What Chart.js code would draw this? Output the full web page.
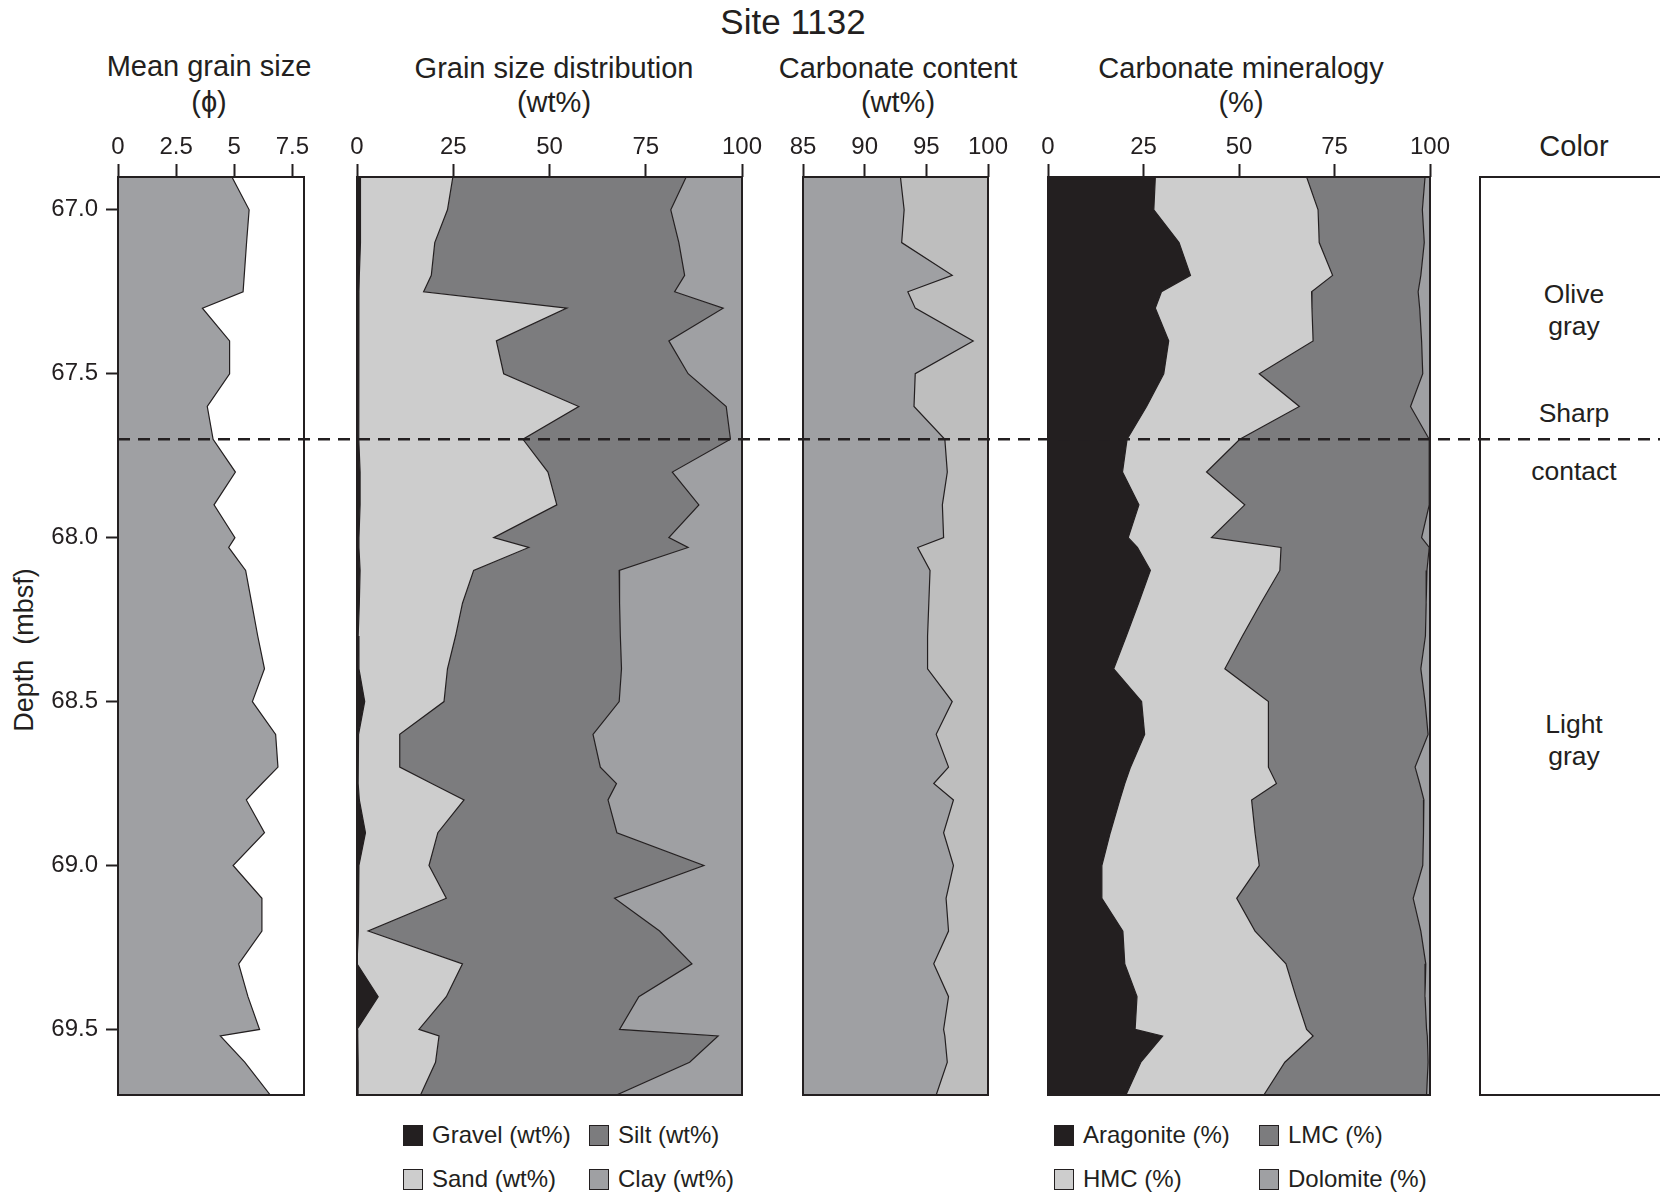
<!DOCTYPE html>
<html>
<head>
<meta charset="utf-8">
<script src="https://cdn.jsdelivr.net/npm/chart.js@4.4.1/dist/chart.umd.min.js"></script>
<style>
  html, body { margin: 0; padding: 0; background: #fff; }
  #page { position: relative; width: 1660px; height: 1196px; overflow: hidden;
          font-family: "Liberation Sans", Arial, Helvetica, sans-serif; color: #231f20; }
  #page canvas { position: absolute; z-index: 1; }
  .lbl { position: absolute; white-space: nowrap; line-height: 1; transform: translate(-50%, -50%); }
  .hd { font-size: 29px; }
  .leg { position: absolute; display: flex; align-items: center; font-size: 24px; line-height: 1;
         white-space: nowrap; transform: translateY(-50%); }
  .leg i { display: inline-block; width: 18px; height: 19px; border: 1.6px solid #231f20; margin-right: 9px; }
  #colorBox { position: absolute; left: 1479px; top: 176px; width: 300px; height: 916px;
              border: 2px solid #231f20; }
  .ct { font-size: 26.5px; }
  #depthTitle { position: absolute; left: 24px; top: 650px; font-size: 27px; line-height: 1; white-space: pre;
                transform: translate(-50%, -50%) rotate(-90deg); }
  #contact { position: absolute; left: 0; top: 0; z-index: 10; pointer-events: none; }
</style>
</head>
<body>
<div id="page">
  <div class="lbl" style="left:793px;top:21px;font-size:35px">Site 1132</div>

  <div class="lbl hd" style="left:209px;top:66px">Mean grain size</div>
  <div class="lbl hd" style="left:209px;top:102px">(ϕ)</div>
  <div class="lbl hd" style="left:554px;top:68px">Grain size distribution</div>
  <div class="lbl hd" style="left:554px;top:102px">(wt%)</div>
  <div class="lbl hd" style="left:898px;top:68px">Carbonate content</div>
  <div class="lbl hd" style="left:898px;top:102px">(wt%)</div>
  <div class="lbl hd" style="left:1241px;top:68px">Carbonate mineralogy</div>
  <div class="lbl hd" style="left:1241px;top:102px">(%)</div>
  <div class="lbl hd" style="left:1574px;top:146px">Color</div>

  <div id="depthTitle">Depth  (mbsf)</div>

  <div id="colorBox"></div>
  <div class="lbl ct" style="left:1574px;top:294px">Olive</div>
  <div class="lbl ct" style="left:1574px;top:326px">gray</div>
  <div class="lbl ct" style="left:1574px;top:413px">Sharp</div>
  <div class="lbl ct" style="left:1574px;top:471px">contact</div>
  <div class="lbl ct" style="left:1574px;top:724px">Light</div>
  <div class="lbl ct" style="left:1574px;top:756px">gray</div>

  <div id="legends"></div>
  <svg id="contact" width="1660" height="1196"></svg>
</div>

<script>
// depth of each sample (mbsf)
const DEPTH = [66.90, 67.00, 67.10, 67.20, 67.25, 67.30, 67.40, 67.50, 67.60, 67.70, 67.80,
               67.90, 68.00, 68.03, 68.10, 68.20, 68.30, 68.40, 68.50, 68.60, 68.70, 68.75,
               68.80, 68.90, 69.00, 69.10, 69.20, 69.30, 69.40, 69.50, 69.52, 69.60, 69.70];
const DEPTH_MIN = 66.9, DEPTH_MAX = 69.7;
const DEPTH_TICKS = [67.0, 67.5, 68.0, 68.5, 69.0, 69.5];
const CONTACT_DEPTH = 67.70;

// mean grain size (phi)
const MEAN_GRAIN = [4.90, 5.64, 5.53, 5.43, 5.38, 3.63, 4.80, 4.80, 3.84, 4.09, 5.05,
                    4.13, 5.03, 4.76, 5.49, 5.75, 6.01, 6.30, 5.78, 6.78, 6.88, 6.19,
                    5.52, 6.30, 4.95, 6.19, 6.19, 5.19, 5.59, 6.09, 4.40, 5.45, 6.55];
const GRAIN_TICKS = [0, 2.5, 5, 7.5];

// grain size distribution (wt%)
const GRAVEL = [0.8, 1.0, 0.8, 0.6, 0.5, 0.5, 0.5, 0.4, 0.4, 0.5, 0.8,
                0.8, 0.5, 0.5, 0.8, 0.6, 0.3, 0.5, 2.0, 0.4, 0.3, 0.3,
                0.6, 2.2, 0.5, 0.4, 0.3, 0.0, 5.5, 0.0, 0.2, 0.3, 0.3];
const SAND = [24.1, 22.5, 19.4, 18.7, 16.8, 54.0, 35.7, 37.7, 57.2, 42.6, 48.8,
              51.1, 35.0, 44.1, 29.5, 26.8, 25.3, 23.0, 20.6, 10.7, 10.8, 19.1,
              27.2, 18.8, 18.2, 22.8, 2.6, 27.4, 17.7, 16.1, 21.1, 20.1, 16.2];
const SILT = [60.6, 58.0, 63.4, 65.8, 65.2, 40.6, 44.8, 47.9, 38.3, 53.9, 32.3,
              36.9, 45.5, 41.4, 37.8, 40.8, 42.8, 45.2, 45.5, 50.2, 52.1, 48.0,
              37.4, 46.5, 71.4, 43.7, 75.7, 59.6, 50.0, 52.1, 72.5, 66.0, 50.9];
const CLAY = [14.5, 18.5, 16.4, 14.9, 17.5, 4.9, 19.0, 14.0, 4.1, 3.0, 18.1,
              11.2, 19.0, 14.0, 31.9, 31.8, 31.6, 31.3, 31.9, 38.7, 36.8, 32.6,
              34.8, 32.5, 9.9, 33.1, 21.4, 13.0, 26.8, 31.8, 6.2, 13.6, 32.6];
const PCT_TICKS = [0, 25, 50, 75, 100];

// carbonate content (wt%)
const CARBONATE = [92.9, 93.2, 93.0, 97.1, 93.5, 94.1, 98.8, 94.1, 94.0, 96.5, 96.7,
                   96.3, 96.4, 94.3, 95.3, 95.2, 95.1, 95.1, 97.1, 95.8, 96.8, 95.6,
                   97.2, 96.4, 97.2, 96.6, 96.8, 95.6, 96.8, 96.4, 96.5, 96.7, 95.8];
const CARB_TICKS = [85, 90, 95, 100];

// carbonate mineralogy (%)
const ARAGONITE = [28.1, 27.7, 34.3, 37.3, 29.7, 28.1, 31.6, 30.3, 25.8, 20.7, 19.5,
                   23.8, 21.0, 23.4, 26.8, 23.7, 20.5, 17.2, 24.5, 25.3, 21.6, 20.1,
                   18.8, 16.3, 14.1, 14.1, 19.6, 20.1, 23.3, 22.8, 30.0, 24.3, 20.4];
const HMC = [39.6, 43.0, 36.7, 37.2, 39.3, 41.0, 37.8, 25.0, 40.0, 29.5, 22.0,
             27.7, 21.8, 37.6, 33.9, 32.0, 30.4, 29.1, 33.2, 32.4, 36.1, 39.7,
             34.5, 37.9, 41.2, 35.3, 34.6, 42.2, 41.6, 44.9, 39.4, 37.7, 36.1];
const LMC = [31.0, 27.3, 27.5, 23.1, 27.9, 28.2, 28.4, 42.8, 29.1, 49.6, 58.3,
             48.3, 55.0, 38.8, 38.5, 43.3, 47.9, 51.3, 41.0, 41.8, 38.4, 37.5,
             45.1, 44.1, 42.8, 46.2, 43.4, 36.6, 33.8, 31.4, 29.9, 37.5, 42.6];
const DOLOMITE = [1.3, 2.0, 1.5, 2.4, 3.1, 2.7, 2.2, 1.9, 5.1, 0.2, 0.2,
                  0.2, 2.2, 0.2, 0.8, 1.0, 1.2, 2.4, 1.3, 0.5, 3.9, 2.7,
                  1.6, 1.7, 1.9, 4.4, 2.4, 1.1, 1.3, 0.9, 0.7, 0.5, 0.9];

const INK = '#231f20';
const FONT = '"Liberation Sans", Arial, Helvetica, sans-serif';
const C_BLACK = '#231f20', C_LIGHT = '#cdcdcd', C_DARK = '#7c7c7e', C_MID = '#9fa0a3';

const CANVAS_TOP = 100, AXIS_H = 77, PLOT_H = 918, PAD = 40;

// running totals so every band is filled against the one before it
function stack(seriesList) {
  const out = [];
  let run = DEPTH.map(() => 0);
  for (const s of seriesList) {
    run = run.map((v, i) => v + s[i]);
    out.push(run);
  }
  return out;
}

const panelFrame = {
  id: 'panelFrame',
  beforeDatasetsDraw(chart, args, opts) {
    const { ctx, chartArea: a } = chart;
    ctx.save();
    ctx.fillStyle = opts.background || '#fff';
    ctx.fillRect(a.left, a.top, a.width, a.height);
    ctx.restore();
  },
  afterDatasetsDraw(chart) {
    const { ctx, chartArea: a } = chart;
    ctx.save();
    ctx.strokeStyle = INK;
    ctx.lineWidth = 2;
    ctx.strokeRect(a.left, a.top, a.width, a.height);
    ctx.restore();
  },
};

function buildPanel({ plotLeft, plotWidth, xMin, xMax, xTicks, bands, colors, labels, showDepth, background }) {
  const canvas = document.createElement('canvas');
  const left = showDepth ? 0 : plotLeft - PAD;
  const width = showDepth ? plotLeft + plotWidth + PAD : plotWidth + 2 * PAD;
  canvas.width = width;
  canvas.height = AXIS_H + PLOT_H + PAD;
  canvas.style.left = left + 'px';
  canvas.style.top = CANVAS_TOP + 'px';
  document.getElementById('page').appendChild(canvas);

  const datasets = bands.map((vals, k) => ({
    label: labels[k],
    data: DEPTH.map((d, i) => ({ x: vals[i], y: d })),
    fill: k === 0 ? 'origin' : '-1',
    backgroundColor: colors[k],
    borderColor: INK,
    borderWidth: 1.2,
    pointRadius: 0,
    tension: 0,
  }));

  return new Chart(canvas, {
    type: 'line',
    data: { datasets },
    options: {
      indexAxis: 'y',
      responsive: false,
      animation: false,
      devicePixelRatio: 1,
      layout: { padding: { left: showDepth ? 0 : PAD, right: PAD, top: 0, bottom: PAD } },
      plugins: {
        legend: { display: false },
        tooltip: { enabled: false },
        panelFrame: { background },
      },
      scales: {
        x: {
          type: 'linear',
          position: 'top',
          min: xMin,
          max: xMax,
          afterBuildTicks: s => { s.ticks = xTicks.map(v => ({ value: v })); },
          afterFit: s => { s.height = AXIS_H; },
          ticks: {
            callback: v => String(v),
            font: { family: FONT, size: 24 },
            color: INK,
            padding: 2,
            maxRotation: 0,
            autoSkip: false,
          },
          grid: { drawOnChartArea: false, tickLength: 13, tickWidth: 2, tickColor: INK },
          border: { display: false },
        },
        y: {
          type: 'linear',
          reverse: true,
          min: DEPTH_MIN,
          max: DEPTH_MAX,
          display: showDepth,
          afterBuildTicks: s => { s.ticks = DEPTH_TICKS.map(v => ({ value: v })); },
          afterFit: s => { if (showDepth) s.width = plotLeft; },
          ticks: {
            callback: v => v.toFixed(1),
            font: { family: FONT, size: 24 },
            color: INK,
            padding: 8,
            autoSkip: false,
          },
          grid: { drawOnChartArea: false, tickLength: 12, tickWidth: 2, tickColor: INK },
          border: { display: false },
        },
      },
    },
    plugins: [panelFrame],
  });
}

const grainChart = buildPanel({
  plotLeft: 118, plotWidth: 186, xMin: 0, xMax: 8, xTicks: GRAIN_TICKS,
  bands: [MEAN_GRAIN], colors: [C_MID], labels: ['Mean grain size'],
  showDepth: true, background: '#fff',
});

buildPanel({
  plotLeft: 357, plotWidth: 385, xMin: 0, xMax: 100, xTicks: PCT_TICKS,
  bands: stack([GRAVEL, SAND, SILT, CLAY]), colors: [C_BLACK, C_LIGHT, C_DARK, C_MID],
  labels: ['Gravel', 'Sand', 'Silt', 'Clay'], showDepth: false, background: '#fff',
});

buildPanel({
  plotLeft: 803, plotWidth: 185, xMin: 85, xMax: 100, xTicks: CARB_TICKS,
  bands: [CARBONATE], colors: [C_MID], labels: ['Carbonate'],
  showDepth: false, background: '#bebebe',
});

buildPanel({
  plotLeft: 1048, plotWidth: 382, xMin: 0, xMax: 100, xTicks: PCT_TICKS,
  bands: stack([ARAGONITE, HMC, LMC, DOLOMITE]), colors: [C_BLACK, C_LIGHT, C_DARK, C_MID],
  labels: ['Aragonite', 'HMC', 'LMC', 'Dolomite'], showDepth: false, background: '#fff',
});

// legends under the two stacked panels
const LEGEND_ITEMS = [
  { text: 'Gravel (wt%)', color: C_BLACK, x: 403, y: 1135 },
  { text: 'Silt (wt%)', color: C_DARK, x: 589, y: 1135 },
  { text: 'Sand (wt%)', color: C_LIGHT, x: 403, y: 1179 },
  { text: 'Clay (wt%)', color: C_MID, x: 589, y: 1179 },
  { text: 'Aragonite (%)', color: C_BLACK, x: 1054, y: 1135 },
  { text: 'LMC (%)', color: C_DARK, x: 1259, y: 1135 },
  { text: 'HMC (%)', color: C_LIGHT, x: 1054, y: 1179 },
  { text: 'Dolomite (%)', color: C_MID, x: 1259, y: 1179 },
];
const legendBox = document.getElementById('legends');
for (const item of LEGEND_ITEMS) {
  const el = document.createElement('div');
  el.className = 'leg';
  el.style.left = item.x + 'px';
  el.style.top = item.y + 'px';
  el.innerHTML = '<i style="background:' + item.color + '"></i><span>' + item.text + '</span>';
  legendBox.appendChild(el);
}

// dashed "sharp contact" line across all panels
const yScale = grainChart.scales.y;
const yContact = CANVAS_TOP + yScale.getPixelForValue(CONTACT_DEPTH);
const svg = document.getElementById('contact');
svg.innerHTML = '<line x1="' + grainChart.chartArea.left + '" x2="1660" y1="' + yContact +
  '" y2="' + yContact + '" stroke="' + INK + '" stroke-width="2.5" stroke-dasharray="12 8"/>';
</script>
</body>
</html>
